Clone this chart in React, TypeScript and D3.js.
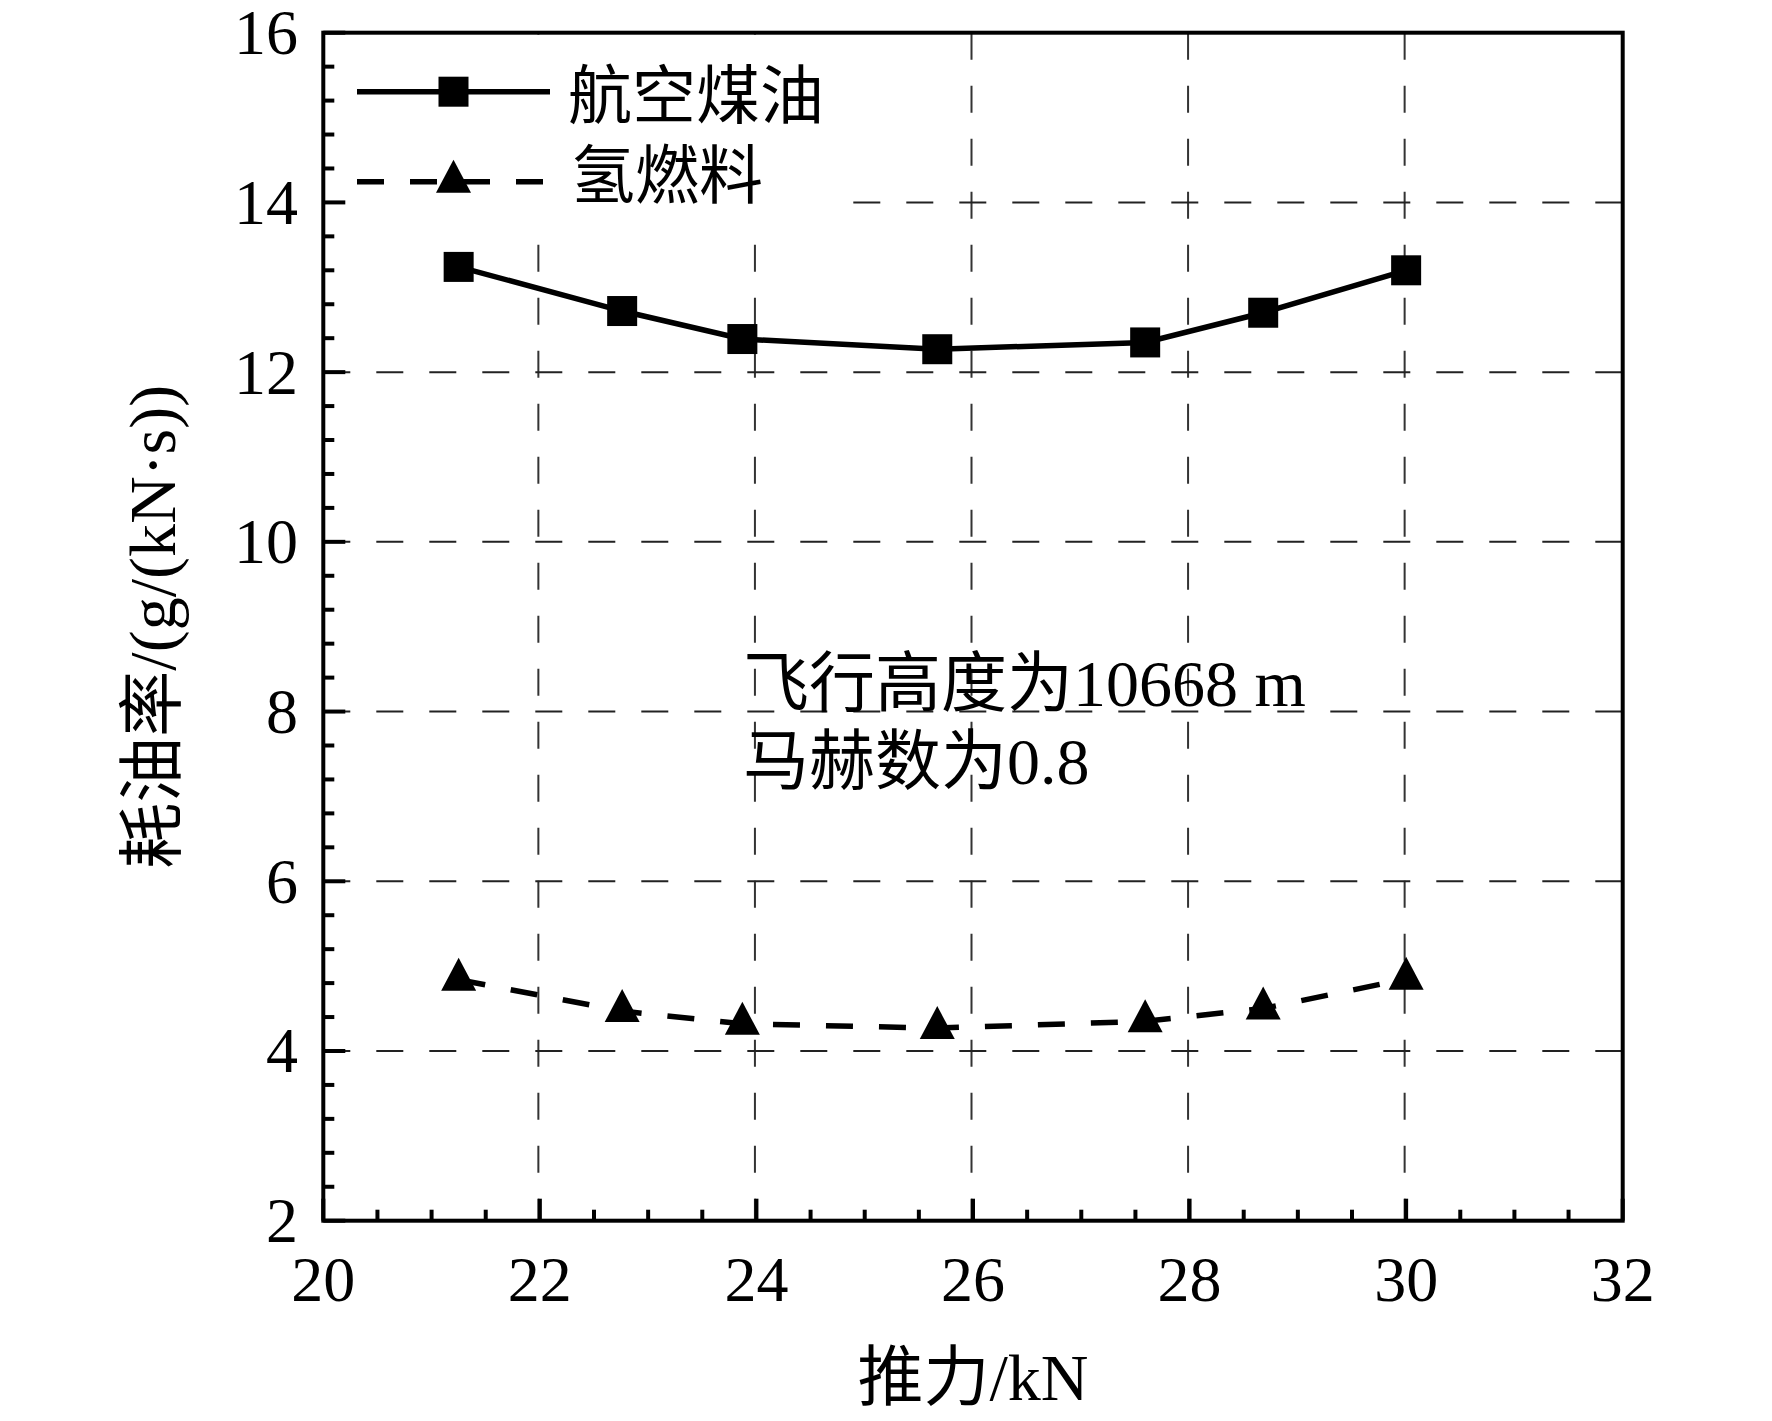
import React from 'react'
import * as d3 from 'd3'

// thrust (kN)
const thrust = [21.25, 22.76, 23.87, 25.67, 27.59, 28.68, 30.0]
// specific fuel consumption, g/(kN·s)
const jetFuel = [13.24, 12.72, 12.39, 12.27, 12.35, 12.7, 13.2]
const hydrogen = [4.84, 4.47, 4.32, 4.27, 4.35, 4.5, 4.85]

const xTicks = [20, 22, 24, 26, 28, 30, 32]
const yTicks = [2, 4, 6, 8, 10, 12, 14, 16]
const seriesNames = ['航空煤油', '氢燃料']
const noteLines = ['飞行高度为10668 m', '马赫数为0.8']
const xTitle = '推力/kN'
const yTitle = '耗油率/(g/(kN·s))'

const W = 1772
const H = 1421
const FONT = '"Liberation Serif", "Times New Roman", "Noto Sans CJK SC", serif'

const left = 323.3
const right = 1622.7
const top = 32.7
const bottom = 1220.7

const x = d3.scaleLinear().domain([20, 32]).range([left, right])
const y = d3.scaleLinear().domain([2, 16]).range([bottom, top])

const xMinor = d3.range(20, 32.001, 0.5).filter(v => Math.abs(v % 2) > 1e-6)
const yMinor = d3
  .range(2, 16.001, 0.4)
  .filter(v => Math.abs(((v - 2) / 2) - Math.round((v - 2) / 2)) > 1e-6)

const triPath = (w: number, h: number) =>
  // centroid at origin
  `M0,${(-2 * h) / 3} L${w / 2},${h / 3} L${-w / 2},${h / 3} Z`

export default function App() {
  const pts = (vals: number[]) => thrust.map((t, i) => [x(t), y(vals[i])] as [number, number])
  const line = d3.line()

  const dash = '27 26'

  return (
    <svg
      width={W}
      height={H}
      style={{ position: 'absolute', left: 0, top: 0, background: '#fff' }}
      fontFamily={FONT}
    >
      <rect x={0} y={0} width={W} height={H} fill="#fff" />

      {/* grid */}
      {xTicks.slice(1, -1).map(t => (
        <line
          key={'gx' + t}
          x1={x(t) - 1.5}
          x2={x(t) - 1.5}
          y1={top}
          y2={bottom}
          stroke="#333"
          strokeWidth={2}
          strokeDasharray={dash}
        />
      ))}
      {yTicks.slice(1, -1).map(t => (
        <line
          key={'gy' + t}
          x1={left}
          x2={right}
          y1={y(t)}
          y2={y(t)}
          stroke="#222"
          strokeWidth={2}
          strokeDasharray={dash}
        />
      ))}

      {/* legend background hides the grid */}
      <rect x={left + 2} y={top + 2} width={850 - left} height={240 - top} fill="#fff" />

      {/* data lines */}
      <path d={line(pts(jetFuel)) || ''} fill="none" stroke="#000" strokeWidth={5.5} />
      <path
        d={line(pts(hydrogen)) || ''}
        fill="none"
        stroke="#000"
        strokeWidth={5.5}
        strokeDasharray={dash}
      />
      {pts(jetFuel).map(([px, py], i) => (
        <rect key={'s' + i} x={px - 15} y={py - 15} width={30} height={30} fill="#000" />
      ))}
      {pts(hydrogen).map(([px, py], i) => (
        <path key={'t' + i} d={triPath(35, 33)} transform={`translate(${px},${py})`} fill="#000" />
      ))}

      {/* frame */}
      <rect x={left} y={top} width={right - left} height={bottom - top} fill="none" stroke="#000" strokeWidth={4} />

      {/* ticks */}
      {xTicks.map(t => (
        <line key={'xt' + t} x1={x(t)} x2={x(t)} y1={bottom} y2={bottom - 22} stroke="#000" strokeWidth={4} />
      ))}
      {xMinor.map(t => (
        <line key={'xm' + t} x1={x(t)} x2={x(t)} y1={bottom} y2={bottom - 11} stroke="#000" strokeWidth={4} />
      ))}
      {yTicks.map(t => (
        <line key={'yt' + t} x1={left} x2={left + 22} y1={y(t)} y2={y(t)} stroke="#000" strokeWidth={4} />
      ))}
      {yMinor.map(t => (
        <line key={'ym' + t} x1={left} x2={left + 11} y1={y(t)} y2={y(t)} stroke="#000" strokeWidth={4} />
      ))}

      {/* tick labels */}
      {xTicks.map(t => (
        <text key={'xl' + t} x={x(t)} y={1301} textAnchor="middle" fontSize={64} fill="#000">
          {t}
        </text>
      ))}
      {yTicks.map(t => (
        <text
          key={'yl' + t}
          x={298}
          y={y(t)}
          textAnchor="end"
          dominantBaseline="central"
          fontSize={64}
          fill="#000"
        >
          {t}
        </text>
      ))}

      {/* axis titles */}
      <text x={(left + right) / 2} y={1400} textAnchor="middle" fontSize={66} fill="#000">
        {xTitle}
      </text>
      <text
        transform={`translate(152,${(top + bottom) / 2}) rotate(-90)`}
        textAnchor="middle"
        dominantBaseline="central"
        fontSize={66}
        fill="#000"
      >
        {yTitle}
      </text>

      {/* legend */}
      <line x1={357} x2={550} y1={91.7} y2={91.7} stroke="#000" strokeWidth={5.5} />
      <rect x={453.5 - 15} y={91.7 - 15} width={30} height={30} fill="#000" />
      <text x={568} y={96} dominantBaseline="central" fontSize={64} fill="#000">
        {seriesNames[0]}
      </text>
      <line x1={357} x2={543} y1={181.7} y2={181.7} stroke="#000" strokeWidth={5.5} strokeDasharray={dash} />
      <path d={triPath(35, 33)} transform="translate(453.5,181.7)" fill="#000" />
      <text x={571} y={176} dominantBaseline="central" fontSize={64} fill="#000">
        {seriesNames[1]}
      </text>

      {/* annotation */}
      {noteLines.map((s, i) => (
        <text key={'n' + i} x={743} y={706 + i * 78} fontSize={66} fill="#000">
          {s}
        </text>
      ))}
    </svg>
  )
}
